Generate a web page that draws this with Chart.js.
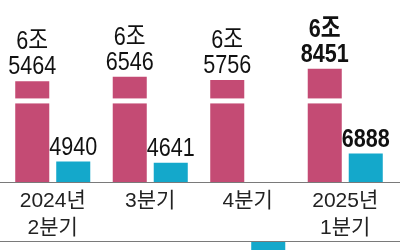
<!DOCTYPE html>
<html><head><meta charset="utf-8">
<script src="https://cdn.jsdelivr.net/npm/chart.js@4.4.1/dist/chart.umd.min.js"></script>
<style>html,body{margin:0;padding:0;background:#fff;}#wrap{width:400px;height:250px;}</style>
</head><body><div id="wrap"><canvas id="c" width="400" height="250"></canvas></div>
<script>
// Data (억원)
const categories = [["2024년", "2분기"], ["3분기"], ["4분기"], ["2025년", "1분기"]];
const revenue = [65464, 66546, 65756, 68451];
const opProfit = [4940, 4641, -18000, 6888];
const showOpLabel = [true, true, false, true];
const boldIndex = 3;

// Broken-axis settings for the revenue bars
const BREAK_OFFSET = 41100;
const BREAK_AT = 19600;
const Y_MAX = 44000;

const RED = '#C44B74';
const BLUE = '#14A8CB';
const NUM_FONT = "'Liberation Sans', 'Noto Sans CJK KR', sans-serif";
const CAT_FONT = "'Liberation Sans', 'Noto Sans CJK KR', sans-serif";
const CONDENSE = 0.83;
const BAND_HEIGHT = 60;

function revenueLines(v) {
  return [Math.floor(v / 10000) + '조', String(v % 10000)];
}

const overlay = {
  id: 'overlay',
  afterDatasetsDraw(chart) {
    const ctx = chart.ctx, ca = chart.chartArea, ys = chart.scales.y;
    ctx.save();
    // break stripe
    const by = ys.getPixelForValue(BREAK_AT);
    ctx.fillStyle = '#fff';
    chart.getDatasetMeta(0).data.forEach(b => {
      ctx.fillRect(b.x - b.width / 2 - 1, by - 2.5, b.width + 2, 5);
    });
    // label band
    const top = Math.round(ca.bottom);
    const bandBottom = top + BAND_HEIGHT;
    ctx.fillRect(0, top, chart.width, BAND_HEIGHT);
    // lines
    ctx.strokeStyle = '#7a7a7a';
    ctx.lineWidth = 1;
    ctx.beginPath();
    ctx.moveTo(0, top + 0.5); ctx.lineTo(chart.width, top + 0.5);
    ctx.moveTo(0, bandBottom - 0.5); ctx.lineTo(chart.width, bandBottom - 0.5);
    ctx.stroke();
    // value labels (condensed)
    ctx.fillStyle = '#111';
    ctx.textAlign = 'center';
    ctx.textBaseline = 'alphabetic';
    const drawLabel = (lines, el, bold) => {
      ctx.font = (bold ? 'bold ' : '') + '26px ' + NUM_FONT;
      let base = el.y - 7;
      for (let i = lines.length - 1; i >= 0; i--) {
        ctx.save();
        ctx.translate(el.x, base);
        ctx.scale(CONDENSE, 1);
        ctx.fillText(lines[i], 0, 0);
        ctx.restore();
        base -= 25;
      }
    };
    chart.getDatasetMeta(0).data.forEach((el, i) => drawLabel(revenueLines(revenue[i]), el, i === boldIndex));
    chart.getDatasetMeta(1).data.forEach((el, i) => {
      if (showOpLabel[i]) drawLabel([String(opProfit[i])], el, i === boldIndex);
    });
    ctx.restore();
  }
};

new Chart(document.getElementById('c'), {
  type: 'bar',
  data: {
    labels: categories,
    datasets: [
      { label: '매출', data: revenue.map(v => v - BREAK_OFFSET), backgroundColor: RED, clip: false,
        categoryPercentage: 0.841, barPercentage: 0.83 },
      { label: '영업이익', data: opProfit, backgroundColor: BLUE, clip: false,
        categoryPercentage: 0.841, barPercentage: 0.83 }
    ]
  },
  options: {
    responsive: false,
    animation: false,
    layout: { padding: { left: 4, right: 6, top: 0, bottom: 0 } },
    plugins: { legend: { display: false }, tooltip: { enabled: false } },
    scales: {
      x: {
        afterFit(scale) { scale.height = 68; },
        grid: { display: false, drawTicks: false },
        border: { display: false },
        ticks: { z: 1, color: '#222', padding: 5, maxRotation: 0, autoSkip: false,
          font: { family: CAT_FONT, size: 21, lineHeight: 1.31 } }
      },
      y: { display: false, min: 0, max: Y_MAX }
    }
  },
  plugins: [overlay]
});
</script>
</body></html>
